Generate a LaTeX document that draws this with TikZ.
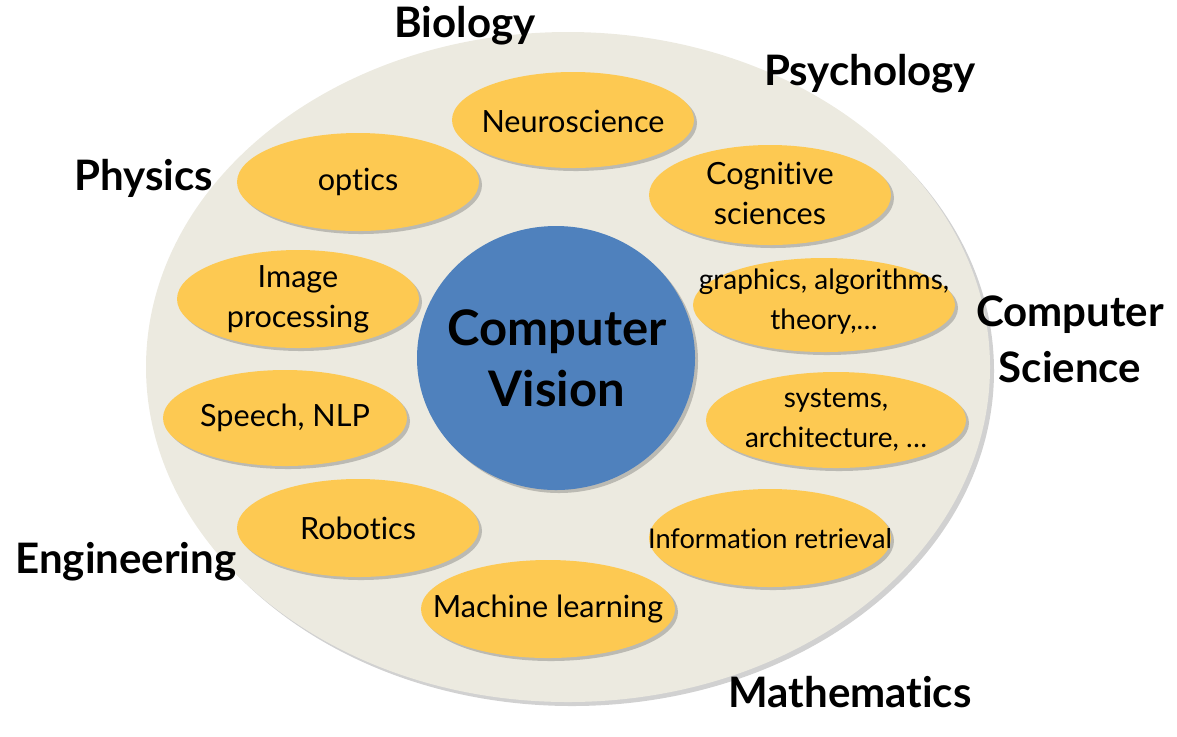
\documentclass[tikz,border=0pt]{standalone}
\usepackage{fontspec}
\setmainfont{Lato}[Ligatures={NoCommon}]
\usetikzlibrary{shadows}
\definecolor{bgell}{HTML}{ECEAE0}
\definecolor{yel}{HTML}{FDC952}
\definecolor{cvblue}{HTML}{4F81BD}
\tikzset{
  x=0.5pt, y=-0.5pt,
  blob/.style={fill=yel, drop shadow={shadow xshift=1.5pt, shadow yshift=-1.5pt, opacity=0.3, fill=black!70}},
  itxt/.style={font=\fontsize{15.3}{20}\selectfont, align=center, inner sep=0pt, text=black},
  stxt/.style={font=\fontsize{14}{20}\selectfont, align=center, inner sep=0pt, text=black},
  lab/.style={font=\bfseries\fontsize{21}{27}\selectfont, anchor=base, inner sep=0pt, text=black},
}
\begin{document}
\begin{tikzpicture}
\useasboundingbox (0,0) rectangle (1177,736);
% background ellipse
\path[fill=bgell, drop shadow={shadow xshift=2pt, shadow yshift=-2pt, opacity=0.3, fill=black!60}]
  (568,367) coordinate (bigc) ellipse [x radius=211pt, y radius=167.5pt];
% yellow ellipses
\path[blob] (573,120) ellipse [x radius=60.5pt, y radius=24pt];
\node[itxt] (neuro) at (573,121) {Neuroscience};
\path[blob] (358,182) ellipse [x radius=60.5pt, y radius=24.5pt];
\node[itxt] (optics) at (358,182) {optics};
\path[blob] (770,195) ellipse [x radius=60.5pt, y radius=25pt];
\node[itxt] (cogsci) at (770,193) {Cognitive\\sciences};
\path[blob] (298,299) ellipse [x radius=60.5pt, y radius=24.5pt];
\node[itxt] (imgproc) at (298,299) {Image\\processing};
\path[blob] (824,305) ellipse [x radius=65.5pt, y radius=23.5pt];
\node[stxt] (graphics) at (824,302) {graphics, algorithms,\\theory,\ldots};
\path[blob] (285,418) ellipse [x radius=61pt, y radius=24pt];
\node[itxt] (speech) at (285,418) {Speech, NLP};
\path[blob] (836,420) ellipse [x radius=65pt, y radius=24pt];
\node[stxt] (systems) at (836,420) {systems,\\architecture, \ldots};
\path[blob] (358,528) ellipse [x radius=60.5pt, y radius=24.5pt];
\node[itxt] (robotics) at (358,528) {Robotics};
\path[blob] (770,538) ellipse [x radius=60.5pt, y radius=24.5pt];
\node[itxt, font=\fontsize{13.6}{20}\selectfont] (inforet) at (770,539) {Information retrieval};
\path[blob] (548,609) ellipse [x radius=63.5pt, y radius=24.5pt];
\node[itxt] (ml) at (548,609) {Machine learning};
% central circle
\path[fill=cvblue, drop shadow={shadow xshift=1.5pt, shadow yshift=-1.5pt, opacity=0.3, fill=black!70}]
  (556,358) ellipse [x radius=69.5pt, y radius=66pt];
\node[font=\bfseries\fontsize{24.5}{30.5}\selectfont, align=center, inner sep=0pt] (cv) at (557,358) {Computer\\Vision};
% discipline labels
\node[lab] (bio) at (465,37) {Biology};
\node[lab] (psy) at (870,85) {Psychology};
\node[lab] (phy) at (144,190) {Physics};
\node[lab] (cs1) at (1070,326) {Computer};
\node[lab] (cs2) at (1070,382) {Science};
\node[lab] (eng) at (126,573) {Engineering};
\node[lab] (math) at (850,707) {Mathematics};
\end{tikzpicture}
\end{document}
